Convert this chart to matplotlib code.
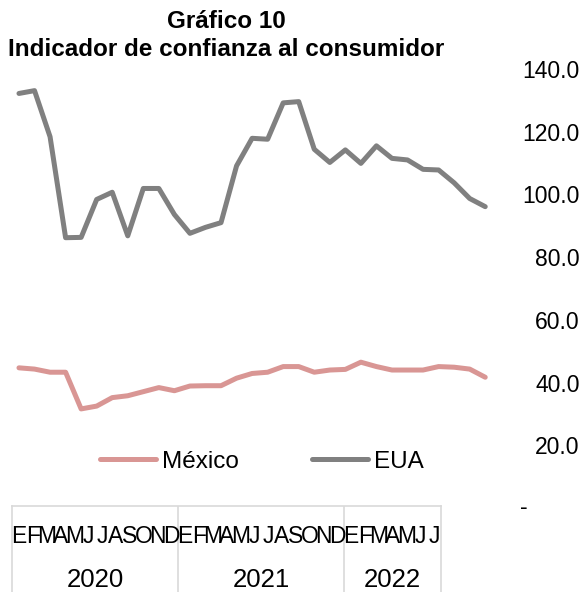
import numpy as np
import matplotlib
matplotlib.use("Agg")
import matplotlib.pyplot as plt
import matplotlib.transforms as mtransforms

plt.rcParams['font.family'] = ['Liberation Sans', 'DejaVu Sans']

# data, Jan 2020 - Jul 2022
months = ['E', 'F', 'M', 'A', 'M', 'J', 'J', 'A', 'S', 'O', 'N', 'D'] * 2 + ['E', 'F', 'M', 'A', 'M', 'J', 'J']
years = ['2020', '2021', '2022']
year_counts = [12, 12, 7]
mexico = [44.7, 44.3, 43.3, 43.3, 31.6, 32.5, 35.2, 35.8, 37.1, 38.4, 37.4, 38.9, 39.0, 39.0, 41.4, 42.9,
          43.3, 45.1, 45.1, 43.3, 44.0, 44.2, 46.5, 45.1, 44.0, 44.0, 44.0, 45.1, 44.9, 44.3, 41.7]
eua = [132.2, 133.1, 118.4, 86.2, 86.3, 98.4, 100.7, 86.8, 101.9, 101.9, 93.6, 87.6, 89.5, 91.0, 109.1, 117.9,
       117.6, 129.2, 129.6, 114.4, 110.2, 114.2, 109.9, 115.5, 111.5, 111.0, 108.0, 107.8, 103.7, 98.7, 96.1]
yticks = [0, 20, 40, 60, 80, 100, 120, 140]

W, H = 582, 592
fig = plt.figure(figsize=(W / 100, H / 100), dpi=100)

# main plot area (pixel positions from the reference)
ax = fig.add_axes([11.2 / W, (H - 508) / H, (493 - 11.2) / W, (508 - 69) / H])
x = np.arange(len(eua))
ax.plot(x, mexico, color='#D99694', lw=3.6, solid_capstyle='round', label='México')
ax.plot(x, eua, color='#808080', lw=3.6, solid_capstyle='round', label='EUA')
ax.set_xlim(-0.5, len(eua) - 0.5)
ax.set_ylim(0, 140)
for s in ax.spines.values():
    s.set_visible(False)
ax.set_xticks([])
ax.yaxis.tick_right()
ax.set_yticks(yticks)
ax.set_yticklabels(['' if v == 0 else f'{v:.1f}' for v in yticks], fontsize=16.5)
ax.tick_params(axis='y', length=0, pad=62.5)
for lbl in ax.get_yticklabels():
    lbl.set_horizontalalignment('right')
trans = mtransforms.blended_transform_factory(ax.transAxes, ax.transData)
ax.text(1.0 + 27 / 481.8, 0.3, '-', transform=trans, fontsize=16.5, ha='left', va='center')

ax.legend(loc='center', bbox_to_anchor=(0.52, 0.105), ncol=2, frameon=False, fontsize=17.5,
          handlelength=2.3, handletextpad=0.25, columnspacing=3.0)

fig.text(226 / W, 1 - 21 / H, 'Gráfico 10', ha='center', va='center', fontsize=17.5, fontweight='bold')
fig.text(226 / W, 1 - 49 / H, 'Indicador de confianza al consumidor', ha='center', va='center',
         fontsize=17.5, fontweight='bold')

# category table below the plot
cax = fig.add_axes([12 / W, 0, (441 - 12) / W, (H - 506) / H])
cax.set_xlim(0, len(months))
cax.set_ylim(0, 1)
cax.set_xticks([])
cax.set_yticks([])
cax.patch.set_alpha(0)
cax.spines['bottom'].set_visible(False)
for k in ['top', 'left', 'right']:
    cax.spines[k].set_color('#D9D9D9')
    cax.spines[k].set_linewidth(1.2)
for i, m in enumerate(months):
    cax.text(i + 0.5, 0.64, m, ha='center', va='center', fontsize=16.5)
start = 0
for yr, n in zip(years, year_counts):
    cax.text(start + n / 2, 0.14, yr, ha='center', va='center', fontsize=18.5)
    if start > 0:
        cax.axvline(start, color='#D9D9D9', lw=1.2)
    start += n

fig.savefig('out.png', dpi=100)
